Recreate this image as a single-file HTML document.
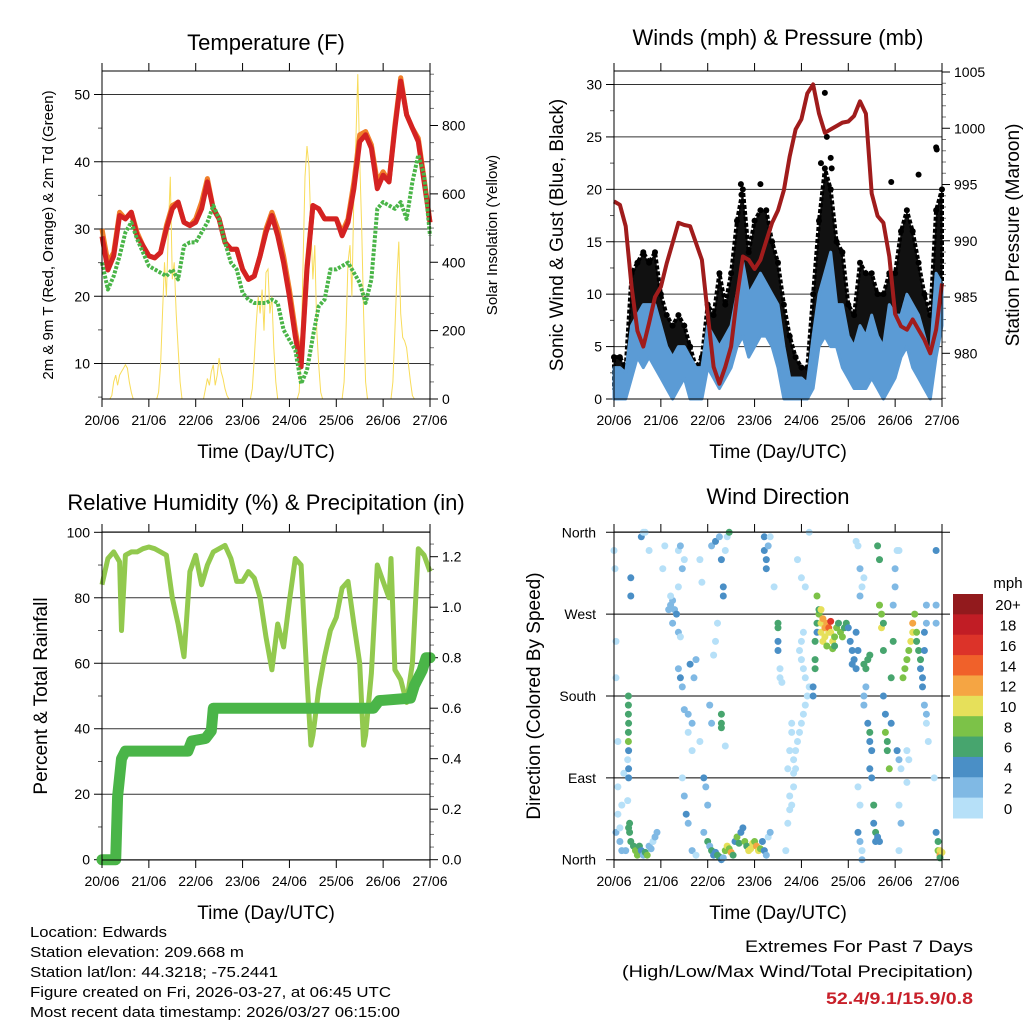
<!DOCTYPE html>
<html><head><meta charset="utf-8"><style>
html,body{margin:0;padding:0;background:#fff;}
svg{display:block;font-family:"Liberation Sans",sans-serif;}
</style></head><body>
<svg id="fig" width="1024" height="1024" viewBox="0 0 1024 1024" xmlns="http://www.w3.org/2000/svg">
<rect x="0" y="0" width="1024" height="1024" fill="#fff"/>
<g id="gTemp"></g>
<g id="gWind"></g>
<g id="gRH"></g>
<g id="gDir"></g>
<g font-family="Liberation Sans, sans-serif" font-size="15" fill="#000">
<text x="30" y="937" textLength="137" lengthAdjust="spacingAndGlyphs">Location: Edwards</text>
<text x="30" y="957" textLength="214" lengthAdjust="spacingAndGlyphs">Station elevation: 209.668 m</text>
<text x="30" y="977" textLength="248" lengthAdjust="spacingAndGlyphs">Station lat/lon: 44.3218; -75.2441</text>
<text x="30" y="997" textLength="361" lengthAdjust="spacingAndGlyphs">Figure created on Fri, 2026-03-27, at 06:45 UTC</text>
<text x="30" y="1017" textLength="370" lengthAdjust="spacingAndGlyphs">Most recent data timestamp: 2026/03/27 06:15:00</text>
</g>
<g font-family="Liberation Sans, sans-serif" text-anchor="end">
<text x="973" y="952" font-size="17" textLength="228" lengthAdjust="spacingAndGlyphs">Extremes For Past 7 Days</text>
<text x="973" y="977" font-size="17" textLength="351" lengthAdjust="spacingAndGlyphs">(High/Low/Max Wind/Total Precipitation)</text>
<text x="973" y="1004" font-size="17" font-weight="bold" fill="#c8202a" textLength="147" lengthAdjust="spacingAndGlyphs">52.4/9.1/15.9/0.8</text>
</g>
</svg>
<script>
// ---------- DATA ----------
const dayLabels = ["20/06","21/06","22/06","23/06","24/06","25/06","26/06","27/06"];
const tempHours = [0,3,6,9,12,15,18,21,24,27,30,33,36,39,42,45,48,51,54,57,60,63,66,69,72,75,78,81,84,87,90,93,96,99,102,105,108,111,114,117,120,123,126,129,132,135,138,141,144,147,150,153,156,159,162,165,168];
const temp2m = [28.9,23.9,26,32,31.5,32.5,29,27.5,26,25.7,26.5,30,33,34,31,30.5,31,33,37,33,31.5,28,27,27,24,22.5,23,26,29.5,32,29,25,20,14,9.5,24,33.5,33,31.5,31.5,31.5,29,31,36,43,44,42,36,38,37,45,52,47,45,43,37,31];
const temp9m = [30,25,26.5,32.5,31.5,32.5,29.5,27.5,26,25.7,26.5,30.5,33.5,34,31,30.5,31.5,34,37.5,33,31.5,28,27,27,24,22.5,23,26,30,32.5,30,26,21,15,10,24.5,33.5,33,31.5,31.5,31.5,29.5,31.5,37,44,44.5,42.5,37,38.5,37,45.5,52.5,47,45,43.5,37.5,31];
const dew2m = [25,21,23,26,29.5,31,28.5,26.5,24.5,24,23.5,23,24,22.5,27.5,28,28,29.5,31,33.5,31.5,28,25,24,20.5,19.5,19,19,19,19.5,19,15,13.5,12,7,9,14,18.5,19.5,24,24,24.5,25,23.5,22,19,22.5,33,34,33.5,33,34,31.5,37,41,38,29];
const solarHours = [0,4,5,6,7,8,9,10,11,12,13,14,15,16,28,29,30,31,32,33,34,35,36,37,38,39,40,41,52,53,54,55,56,57,58,59,60,61,62,63,64,65,76,77,78,79,80,81,82,83,84,85,86,87,88,89,90,100,101,102,103,104,105,106,107,108,109,110,111,112,113,123,124,125,126,127,128,129,130,131,132,133,134,135,136,148,149,150,151,152,153,154,155,156,157,158,159,160,168];
const solarValues = [0,0,10,50,70,40,70,80,90,100,90,50,20,0,0,20,100,250,400,300,500,650,350,400,250,150,50,0,0,30,60,40,80,100,40,70,120,80,60,30,10,0,0,30,120,220,300,250,320,200,370,380,250,300,150,50,0,0,20,150,400,650,740,680,500,350,450,200,100,20,0,0,50,200,400,450,300,600,750,950,700,500,250,50,0,0,50,200,350,460,250,180,170,150,100,50,10,0,0];

const presHours = tempHours;
const pressure = [993.5,993.2,991.3,985.9,982,980.6,982.7,985,985.9,988,989.8,991.6,991.4,991.3,989.8,988.3,983.5,978.8,977.3,978.8,980.6,985,988.6,988.3,987.5,988.3,990,991.6,992.7,994.5,997.5,999.9,1000.8,1003.1,1003.9,1001.3,999.6,999.9,1000.2,1000.5,1000.6,1001.1,1002.4,1001.3,994.2,992.2,991.6,988.6,983.5,982.4,982.1,983,982.1,981.2,980,982.1,986.2];
const windLow = [0,0,0,2,4,3,4,3,2,1,0,1,2,0,0,0,3,2,1,2,3,5,6,4,5,6,6,5,3,0,0,0,0,0,1,5,6,5,5,3,2,1,1,1,2,1,0,1,2,4,5,3,2,1,0,4,7];
const windHigh = [3,3,2.5,7,8,9,9,9,7,5,4,5,5,4,3,3,7,6,5,6,7,10,13,10,11,12,11,10,9,5,2,2,2,1.5,6,10,12,14,9,9,6,5,7,6,8,6,5,9,8,8,10,9,8,6,4,12,11];
const gustLow = [1,1,1,6,7,6,7,6,4,2,2,3,3,1,1,1,5,4,3,4,6,8,10,7,9,10,10,8,6,2,1,1,1,1,3,9,11,10,8,6,4,3,4,4,5,3,2,5,6,8,10,8,6,4,3,8,11];
const gustHigh = [4,4,3,12,13,14,13,14,10,8,7,8,7,5,3,4,9,8,12,9,12,17,20,14,17,18,18,15,13,9,6,4,3,3,10,17,22,20,15,14,9,8,13,12,12,10,10,12,12,16,18,16,13,10,8,18,20];
const gustPeakHours = [108,109,111,111.5,106,165,165.3,75,65,65.3,156,142];
const gustPeakValues = [29.2,25,23,22,22.5,24,23.8,20.5,20.5,19.5,21.4,20.7];

const rhHours = [0,3,6,9,10,12,15,18,21,24,27,30,33,36,39,42,45,48,51,54,57,60,63,66,69,72,75,78,81,84,87,90,93,96,99,102,105,107,108,111,114,117,120,123,126,129,132,134,135,138,141,144,147,148,150,153,156,159,162,165,168];
const rhValues = [84,92,94,91,70,93,94,94,95,95.5,95,94,93,80,72,62,88,93,84,90,94,95,96,92,85,85,88,86,80,68,58,72,65,79,92,90,55,35,38,52,62,70,74,83,85,72,60,35,38,57,90,85,80,92,58,55,48,60,95,93,88];
const rainHours = [0,7,8,10,12,44,46,53,56,57,139,142,158,160,164,166,168];
const rainValues = [0,0,0.25,0.4,0.43,0.43,0.47,0.48,0.51,0.6,0.6,0.63,0.64,0.69,0.75,0.8,0.8];

const dirHours = [0,0.5,1,1,2,2,2,1,3,4,5,6,4,3, 8.6,8.6,8.6,8,8,7.5,7.4,7.4,7.4,7.4,7.5,7.4,7.5,7.5,7.5,7,7,
10,11,12,13,14,15,16,17,18,19,20,21,22,14,15,16,18,25,26,
28,29,30,31,32,30,29,33,34,33,35,36,33,34,
33,34,35,36,38,40,39,42,41,38,40,35,36,37,38,40,42,44,45,44,
46,47,48,46,48,49,50,51,52,53,54,55,56,50,49,51,52,53,50,52,54,55,56,56,55,55,55,57,58,59,57,
57,58,59,60,61,62,63,64,65,66,67,68,69,70,71,72,73,74,75,76,77,78,79,80,
77,77,78,78,79,80,82,84,84,84,84,85,85,86,
88,89,90,91,90,92,92,93,92,93,94,95,96,97,98,99,100,98,97,96,95,96,97,98,96,94,100,91,91,90,89,
102,102,103,103,103,104,104,105,106,106,107,108,108,109,110,110,111,111,112,113,114,115,116,117,118,119,120,104,105,106,107,109,112,113,121,122,122,123,124,125,124,
124,125,126,126,127,128,125,126,125,126,127,127,128,128,129,129,130,128,131,130,131,131,132,131,132,133,133,134,134,135,136,135,136,136,137,137,138,138,138,139,139,140,140,141,142,142,143,143,144,144,145,146,145,146,147,146,147,146,
148,149,150,151,152,153,153,154,155,155,156,157,157,158,158,159,159,160,160,159,160,160,161,150,151,150,
165,166,166,167,167,168,167,165,164,165,165];
const dirDegrees = [340,320,240,200,130,80,50,30,20,60,95,10,10,35, 310,290,20,30,40,35,180,170,160,140,150,130,120,100,90,65,110,
15,10,5,15,10,5,8,5,15,12,20,25,30,355,360,360,340,320,345,
275,280,285,275,270,260,290,250,245,300,320,330,340,345,
210,200,190,165,160,150,215,220,200,140,120,90,70,50,40,10,5,130,305,330,
90,80,60,30,20,15,10,5,8,5,3,0,2,150,170,225,240,260,345,350,355,330,300,290,160,150,145,340,355,360,125,
10,15,12,8,5,20,25,18,30,35,20,15,10,12,18,20,15,10,12,20,10,5,25,30,
355,340,330,320,345,355,300,260,255,240,230,210,200,195,
10,40,55,60,70,80,95,100,110,120,130,140,150,160,170,180,190,200,210,220,230,240,250,300,310,330,360,150,140,120,100,
180,190,210,220,240,250,260,270,260,250,240,255,245,260,250,255,262,250,240,245,255,260,250,245,255,260,255,290,275,275,265,235,232,235,240,230,215,220,210,230,250,
350,345,320,290,300,310,80,60,30,20,10,0,170,180,190,210,220,215,225,150,140,130,120,100,90,60,40,30,20,25,20,345,330,280,270,255,260,230,180,160,140,130,120,100,150,200,240,280,300,320,340,340,120,110,100,60,40,10,
200,210,220,230,240,250,260,270,250,240,230,220,210,200,190,230,250,260,280,170,160,150,130,120,110,85,
30,20,10,10,5,8,2,340,90,280,260];
const dirSpeeds = [1,1,1,1,1,1,1,3,3,1,1,3,3,1, 4,4,6,6,6,6,6,6,6,6,6,8,4,4,4,1,1,
6,8,8,7,4,3,6,8,3,3,1,3,3,4,1,1,1,1,1,
2,2,2,2,4,2,1,2,1,1,3,1,1,3,
2,4,2,2,2,2,4,2,2,1,1,1,2,4,3,2,1,1,1,1,
4,2,2,3,6,3,6,4,4,6,6,4,3,2,2,1,1,1,2,4,2,4,4,4,6,6,6,1,1,6,1,
8,10,8,12,6,4,8,6,4,4,8,6,10,10,10,8,12,10,8,4,4,3,1,3,
4,4,4,4,2,1,1,6,6,4,4,1,1,1,
1,1,1,1,1,1,1,1,1,1,1,1,1,1,1,1,1,1,1,1,1,1,1,1,1,1,1,1,1,1,1,
4,4,6,6,6,4,6,8,10,10,10,12,10,12,10,14,16,10,10,8,8,6,8,8,6,6,4,8,6,10,12,8,8,6,4,4,4,4,4,4,4,
1,1,2,2,1,1,1,1,4,2,1,2,2,2,2,6,6,6,6,4,6,4,4,4,4,6,4,6,4,4,4,6,6,8,8,10,6,6,4,4,8,6,6,8,4,6,6,2,2,2,1,1,4,2,1,1,2,1,
8,8,8,8,10,10,12,8,8,6,6,6,4,4,4,4,4,2,2,2,2,1,1,1,1,1,
4,6,8,10,12,10,6,4,1,2,2];
const speedLabels = ["0","2","4","6","8","10","12","14","16","18","20+"];
const speedColors = ["#b6e0f8","#80b9e4","#4a8fc6","#47a56e","#7cc248","#e6e05a","#f5a543","#f0612a","#dc3329","#c11d25","#921a1d"];

// ---------- HELPERS ----------
const NS="http://www.w3.org/2000/svg";
function mk(parent,tag,attrs){const e=document.createElementNS(NS,tag);for(const k in attrs)e.setAttribute(k,attrs[k]);parent.appendChild(e);return e;}
function txt(parent,x,y,s,size,anchor,rot){const t=mk(parent,"text",{x:x,y:y,"font-size":size,"text-anchor":anchor||"middle",fill:"#000"});if(rot)t.setAttribute("transform","rotate(-90 "+x+" "+y+")");t.textContent=s;return t;}
function linScale(d0,d1,r0,r1){return v=>r0+(v-d0)/(d1-d0)*(r1-r0);}
function pathFrom(xs,ys,X,Y){return xs.map((h,i)=>(i?"L":"M")+X(h).toFixed(1)+","+Y(ys[i]).toFixed(1)).join("");}

function frame(g,P,X){
  for(let d=0;d<=7;d++){
    const x=X(d*24);
    const tk=mk(g,"line",{x1:x,y1:P.top-8,x2:x,y2:P.top,stroke:"#000","stroke-width":1});
    
    const tb=mk(g,"line",{x1:x,y1:P.bot,x2:x,y2:P.bot+8,stroke:"#000","stroke-width":1});
    
    const l=txt(g,x,P.bot+26,dayLabels[d],14);
    
  }
}
function leftAxis(g,P,Y,majors,minors,fmt,grid){
  majors.forEach(v=>{const y=Y(v);
    if(grid){const gl=mk(g,"line",{x1:P.x0,y1:y,x2:P.x1,y2:y,stroke:"#333","stroke-width":1});}
    const t=mk(g,"line",{x1:P.x0-8,y1:y,x2:P.x0,y2:y,stroke:"#000"});
    const l=txt(g,P.x0-12,y+5,fmt(v),14,"end");});
  minors.forEach(v=>{const y=Y(v);const t=mk(g,"line",{x1:P.x0-4,y1:y,x2:P.x0,y2:y,stroke:"#555"});});
}
function rightAxis(g,P,Y,majors,minors,fmt){
  majors.forEach(v=>{const y=Y(v);
    const t=mk(g,"line",{x1:P.x1,y1:y,x2:P.x1+8,y2:y,stroke:"#000"});
    const l=txt(g,P.x1+12,y+5,fmt(v),14,"start");});
  minors.forEach(v=>{const y=Y(v);const t=mk(g,"line",{x1:P.x1,y1:y,x2:P.x1+4,y2:y,stroke:"#777"});});
}
function box(g,P){const r=mk(g,"rect",{x:P.x0,y:P.top,width:P.x1-P.x0,height:P.bot-P.top,fill:"none",stroke:"#000","stroke-width":1});}
function range(a,b,s){const r=[];for(let v=a;v<=b+1e-9;v+=s)r.push(+v.toFixed(4));return r;}

// ---------- TEMPERATURE ----------
(function(){
  const g=document.getElementById("gTemp");
  const P={x0:102,x1:430,top:71,bot:399};
  const X=linScale(0,168,P.x0,P.x1);
  const Y=linScale(10,50,363.5,94.5);
  const YS=linScale(0,800,399,125.5);
  leftAxis(g,P,Y,[10,20,30,40,50],[5,15,25,35,45],v=>v,true);
  rightAxis(g,P,YS,[0,200,400,600,800],range(50,950,50).filter(v=>v%200),v=>v);
  const sol=mk(g,"path",{d:pathFrom(solarHours,solarValues,X,YS),fill:"none",stroke:"#f8dc5a","stroke-width":1});
  
  const o=mk(g,"path",{d:pathFrom(tempHours,temp9m,X,Y),fill:"none",stroke:"#f07f2a","stroke-width":5,"stroke-linejoin":"round"});
  
  const r=mk(g,"path",{d:pathFrom(tempHours,temp2m,X,Y),fill:"none",stroke:"#d42222","stroke-width":5,"stroke-linejoin":"round"});
  
  const d=mk(g,"path",{d:pathFrom(tempHours,dew2m,X,Y),fill:"none",stroke:"#4ab548","stroke-width":4,"stroke-dasharray":"3 1.5","stroke-linejoin":"round"});
  
  box(g,P);frame(g,P,X);
  const t=txt(g,266,50,"Temperature (F)",22);
  const xl=txt(g,266,458,"Time (Day/UTC)",19);
  const yl=txt(g,53,235,"2m & 9m T (Red, Orange) & 2m Td (Green)",15,"middle",true);
  const yr=txt(g,497,235,"Solar Insolation (Yellow)",15,"middle",true);
})();

// ---------- WINDS ----------
(function(){
  const g=document.getElementById("gWind");
  const P={x0:614,x1:942,top:71,bot:399};
  const X=linScale(0,168,P.x0,P.x1);
  const Y=linScale(0,30,399,84.5);
  const YP=linScale(980,1005,353.3,72);
  leftAxis(g,P,Y,[0,5,10,15,20,25,30],range(2.5,27.5,5),v=>v,true);
  rightAxis(g,P,YP,[980,985,990,995,1000,1005],range(976,1005,1).filter(v=>v%5),v=>v);
  const gp=pathFrom(presHours,gustHigh,X,Y)+pathFrom(presHours.slice().reverse(),gustLow.slice().reverse(),X,Y).replace("M","L")+"Z";
  const gb=mk(g,"path",{d:gp,fill:"#111",stroke:"#000","stroke-width":4,"stroke-dasharray":"4 2","stroke-linejoin":"round"});
  
  presHours.forEach((h,i)=>{const c=mk(g,"circle",{cx:X(h),cy:Y(gustHigh[i]),r:3,fill:"#000"});});
  gustPeakHours.forEach((h,i)=>{const c=mk(g,"circle",{cx:X(h),cy:Y(gustPeakValues[i]),r:3,fill:"#000"});});
  const wp=pathFrom(presHours,windHigh,X,Y)+pathFrom(presHours.slice().reverse(),windLow.slice().reverse(),X,Y).replace("M","L")+"Z";
  const wb=mk(g,"path",{d:wp,fill:"#5b9bd5",stroke:"#5b9bd5","stroke-width":3,"stroke-linejoin":"round"});
  
  const pl=mk(g,"path",{d:pathFrom(presHours,pressure,X,YP),fill:"none",stroke:"#a01c1c","stroke-width":4,"stroke-linejoin":"round"});
  
  box(g,P);frame(g,P,X);
  const t=txt(g,778,45,"Winds (mph) & Pressure (mb)",22);
  const xl=txt(g,778,458,"Time (Day/UTC)",19);
  const yl=txt(g,563,235,"Sonic Wind & Gust (Blue, Black)",19,"middle",true);
  const yr=txt(g,1019,235,"Station Pressure (Maroon)",19,"middle",true);
})();

// ---------- RH & PRECIP ----------
(function(){
  const g=document.getElementById("gRH");
  const P={x0:102,x1:430,top:532,bot:860};
  const X=linScale(0,168,P.x0,P.x1);
  const Y=linScale(0,100,859.7,532.3);
  const YR=linScale(0,1.2,859.7,556.7);
  leftAxis(g,P,Y,[0,20,40,60,80,100],[10,30,50,70,90],v=>v,true);
  rightAxis(g,P,YR,[0,0.2,0.4,0.6,0.8,1.0,1.2],range(0.05,1.25,0.05).filter(v=>Math.abs(v*5-Math.round(v*5))>1e-6),v=>v.toFixed(1));
  const rh=mk(g,"path",{d:pathFrom(rhHours,rhValues,X,Y),fill:"none",stroke:"#92c94e","stroke-width":5,"stroke-linejoin":"round"});
  
  const rn=mk(g,"path",{d:pathFrom(rainHours,rainValues,X,YR),fill:"none",stroke:"#4ab548","stroke-width":11,"stroke-linejoin":"round","stroke-linecap":"round"});
  
  box(g,P);frame(g,P,X);
  const t=txt(g,266,510,"Relative Humidity (%) & Precipitation (in)",22);
  const xl=txt(g,266,919,"Time (Day/UTC)",19);
  const yl=txt(g,47,696,"Percent & Total Rainfall",19,"middle",true);
})();

// ---------- WIND DIRECTION ----------
(function(){
  const g=document.getElementById("gDir");
  const P={x0:614,x1:942,top:532,bot:860};
  const X=linScale(0,168,P.x0,P.x1);
  const Y=linScale(0,360,859.7,532.3);
  const names=["North","East","South","West","North"];
  [0,90,180,270,360].forEach((v,i)=>{const y=Y(v);
    const gl=mk(g,"line",{x1:P.x0-8,y1:y,x2:P.x1+8,y2:y,stroke:"#000"});
    const l=txt(g,P.x0-18,y+5,names[i],14,"end");});
  dirHours.forEach((h,i)=>{const idx=Math.min(10,Math.floor(dirSpeeds[i]/2));
    const c=mk(g,"circle",{cx:X(h).toFixed(1),cy:Y(dirDegrees[i]).toFixed(1),r:3.5,fill:speedColors[idx]});
    
    });
  box(g,P);frame(g,P,X);
  const cb=mk(g,"g",{});
  const bx=953,bw=30,btop=594,bh=(818-594)/11;
  for(let i=0;i<11;i++){const k=10-i;
    const r=mk(cb,"rect",{x:bx,y:btop+i*bh,width:bw,height:bh+0.5,fill:speedColors[k]});
    const l=txt(cb,1008,btop+i*bh+bh/2+6,speedLabels[k],15);}
  const u=txt(cb,1008,588,"mph",15);
  const t=txt(g,778,504,"Wind Direction",22);
  const xl=txt(g,778,919,"Time (Day/UTC)",19);
  const yl=txt(g,540,696,"Direction (Colored By Speed)",19,"middle",true);
})();
</script>
</body></html>
